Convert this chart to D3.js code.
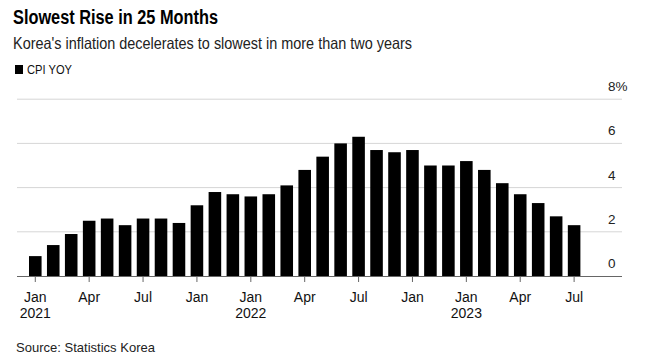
<!DOCTYPE html>
<html><head><meta charset="utf-8">
<script src="https://cdn.jsdelivr.net/npm/d3@7"></script>
<style>
body{margin:0;background:#fff;}
text{font-family:"Liberation Sans",Arial,Helvetica,sans-serif;}
</style></head>
<body><svg id="c" width="645" height="362"></svg>
<script>
const months = ["2021-01","2021-02","2021-03","2021-04","2021-05","2021-06","2021-07","2021-08","2021-09","2021-10","2021-11","2021-12",
"2022-01","2022-02","2022-03","2022-04","2022-05","2022-06","2022-07","2022-08","2022-09","2022-10","2022-11","2022-12",
"2023-01","2023-02","2023-03","2023-04","2023-05","2023-06","2023-07"];
const cpiYoy = [0.9,1.4,1.9,2.5,2.6,2.3,2.6,2.6,2.4,3.2,3.8,3.7,3.6,3.7,4.1,4.8,5.4,6.0,6.3,5.7,5.6,5.7,5.0,5.0,5.2,4.8,4.2,3.7,3.3,2.7,2.3];
// tick labels as shown in the reference (month -> label lines)
const tickMonths = ["2021-01","2021-04","2021-07","2021-10","2022-01","2022-04","2022-07","2022-10","2023-01","2023-04","2023-07"];
const tickLabels = [["Jan","2021"],["Apr"],["Jul"],["Jan"],["Jan","2022"],["Apr"],["Jul"],["Jan"],["Jan","2023"],["Apr"],["Jul"]];
const yTicks = [0,2,4,6,8];

const svg = d3.select("#c");
const x = d3.scaleBand().domain(months).range([29,580.4]).paddingInner(0.3).paddingOuter(0);
const y = d3.scaleLinear().domain([0,8]).range([276,99.2]);
const gridX0 = 17, gridX1 = 622;

// gridlines
svg.append("g").selectAll("line").data(yTicks.filter(d=>d>0)).join("line")
  .attr("x1",gridX0).attr("x2",gridX1).attr("y1",d=>y(d)).attr("y2",d=>y(d))
  .attr("stroke","#d6d6d6").attr("stroke-width",1);
// y labels
svg.append("g").selectAll("text").data(yTicks).join("text")
  .attr("x",608).attr("y",d=>y(d)-8).attr("font-size",13.5).attr("fill","#222")
  .text(d=>d===8? d+"%" : d);

// bars
svg.append("g").selectAll("rect").data(cpiYoy).join("rect")
  .attr("x",(d,i)=>x(months[i])).attr("width",x.bandwidth())
  .attr("y",d=>y(d)).attr("height",d=>y(0)-y(d)).attr("fill","#000");

// baseline
svg.append("line").attr("x1",gridX0).attr("x2",gridX1).attr("y1",y(0)+0.5).attr("y2",y(0)+0.5)
  .attr("stroke","#666").attr("stroke-width",1);

// x ticks
const xt = svg.append("g").selectAll("g").data(tickMonths).join("g")
  .attr("transform",d=>`translate(${x(d)+x.bandwidth()/2},0)`);
xt.append("line").attr("y1",y(0)+1).attr("y2",y(0)+6).attr("stroke","#666");
xt.each(function(d,i){
  const g=d3.select(this);
  tickLabels[i].forEach((t,j)=>{
    g.append("text").attr("y",301.7+j*16.6).attr("text-anchor","middle")
     .attr("font-size",14).attr("fill","#111").text(t);
  });
});

// titles
svg.append("text").attr("x",13).attr("y",24).attr("font-size",20).attr("font-weight","bold")
  .attr("fill","#000").attr("textLength",205).attr("lengthAdjust","spacingAndGlyphs").text("Slowest Rise in 25 Months");
svg.append("text").attr("x",13).attr("y",48.5).attr("font-size",16.5).attr("fill","#222")
  .attr("textLength",399).attr("lengthAdjust","spacingAndGlyphs")
  .text("Korea's inflation decelerates to slowest in more than two years");
// legend
svg.append("rect").attr("x",15).attr("y",65).attr("width",8).attr("height",9).attr("fill","#000");
svg.append("text").attr("x",27).attr("y",74).attr("font-size",13).attr("fill","#111")
  .attr("textLength",45).attr("lengthAdjust","spacingAndGlyphs").text("CPI YOY");
// source
svg.append("text").attr("x",16).attr("y",352).attr("font-size",13).attr("fill","#222")
  .attr("textLength",139).attr("lengthAdjust","spacingAndGlyphs").text("Source: Statistics Korea");
</script></body></html>
